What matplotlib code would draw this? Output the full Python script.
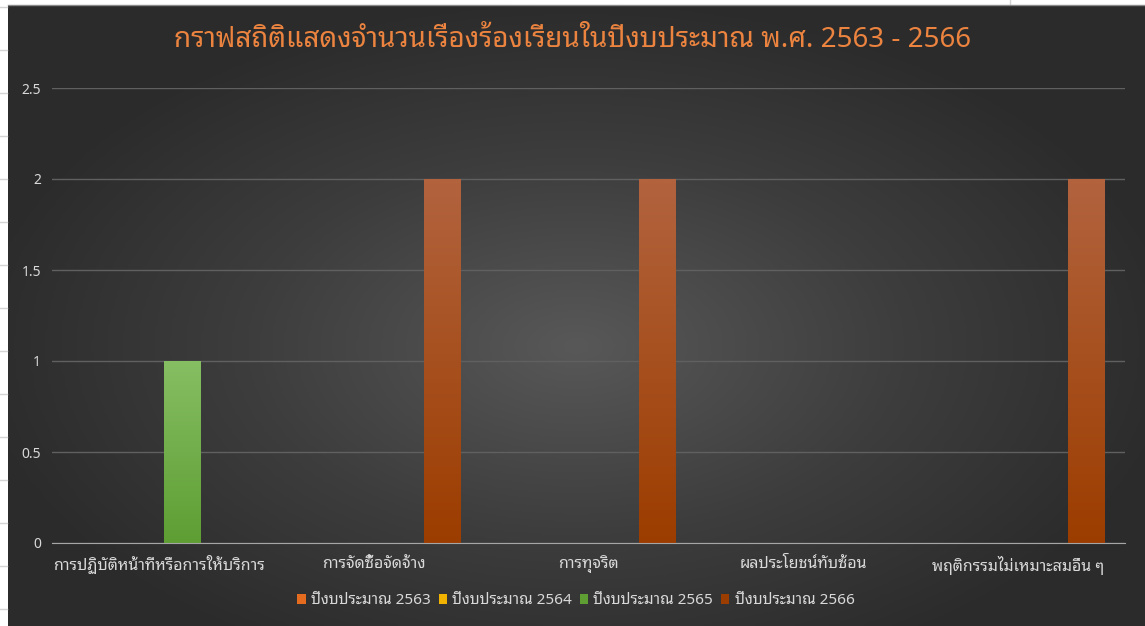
import numpy as np
import matplotlib
matplotlib.use("Agg")
import matplotlib.pyplot as plt
from matplotlib.colors import LinearSegmentedColormap

plt.rcParams["font.family"] = ["Noto Sans Thai Looped", "DejaVu Sans"]

title = "กราฟสถิติแสดงจำนวนเรื่องร้องเรียนในปีงบประมาณ พ.ศ. 2563 - 2566"
categories = [
    "การปฏิบัติหน้าที่หรือการให้บริการ",
    "การจัดซื้อจัดจ้าง",
    "การทุจริต",
    "ผลประโยชน์ทับซ้อน",
    "พฤติกรรมไม่เหมาะสมอื่น ๆ",
]
series_names = ["ปีงบประมาณ 2563", "ปีงบประมาณ 2564", "ปีงบประมาณ 2565", "ปีงบประมาณ 2566"]
v2563 = [0, 0, 0, 0, 0]
v2564 = [0, 0, 0, 0, 0]
v2565 = [1, 0, 0, 0, 0]
v2566 = [0, 2, 2, 0, 2]
yticks = [0, 0.5, 1, 1.5, 2, 2.5]
ytick_labels = ["0", "0.5", "1", "1.5", "2", "2.5"]

# (top colour, bottom colour) for each series
colors = [("#F4A06A", "#E56B1F"), ("#FFD24D", "#F2B200"),
          ("#86BE63", "#5E9E33"), ("#B2633E", "#9C3D00")]

fig = plt.figure(figsize=(11.45, 6.26), dpi=100)
fig.patch.set_facecolor("white")

# spreadsheet grid behind the chart
for yy in np.arange(7, 626, 43):
    fig.add_artist(plt.Line2D([0, 7 / 1145], [1 - yy / 626] * 2, color="#d4d4d4", lw=1))
for xx in [1010]:
    fig.add_artist(plt.Line2D([xx / 1145] * 2, [1 - 4 / 626, 1], color="#d4d4d4", lw=1))

# dark radial background of the chart
bg = fig.add_axes([8 / 1145, 0, 1 - 8 / 1145, 1 - 5 / 626])
gx, gy = np.meshgrid(np.linspace(-1, 1, 400), np.linspace(-1, 1, 220))
r = np.clip(np.sqrt((gx * 0.95) ** 2 + ((gy - 0.1) * 0.9) ** 2), 0, 1)
bg_cmap = LinearSegmentedColormap.from_list("bg", ["#585858", "#3d3d3d", "#282828"])
bg.imshow(r, cmap=bg_cmap, aspect="auto", extent=[0, 1, 0, 1], vmin=0, vmax=1.1)
bg.set_axis_off()
fig.add_artist(plt.Line2D([8 / 1145, 1], [1 - 5 / 626] * 2, color="#8a8a8a", lw=1))

ax = fig.add_axes([52 / 1145, 83 / 626, (1125 - 52) / 1145, (543 - 88) / 626])
ax.set_facecolor("none")

x = np.arange(len(categories))
step = 0.214
width = 0.172
all_vals = [v2563, v2564, v2565, v2566]
handles = []
for i, vals in enumerate(all_vals):
    off = (i - 1.5) * step
    bars = ax.bar(x + off, vals, width=width, color=colors[i][1], label=series_names[i],
                  zorder=3, linewidth=0)
    handles.append(bars)
    cmap = LinearSegmentedColormap.from_list("g%d" % i, [colors[i][1], colors[i][0]])
    for b in bars:
        h = b.get_height()
        if h <= 0:
            continue
        im = ax.imshow(np.linspace(0, 1, 100).reshape(-1, 1), cmap=cmap, origin="lower",
                       aspect="auto", zorder=4,
                       extent=[b.get_x(), b.get_x() + b.get_width(), 0, h])
        im.set_clip_path(b)

ax.set_xlim(-0.5, len(categories) - 0.5)
ax.set_ylim(0, 2.5)
ax.set_yticks(yticks)
ax.set_yticklabels(ytick_labels)
ax.set_xticks(x)
ax.set_xticklabels(categories)
ax.grid(axis="y", color="#606060", lw=1, zorder=0)
for s in ["top", "right", "left"]:
    ax.spines[s].set_visible(False)
ax.spines["bottom"].set_color("#a6a6a6")
ax.spines["bottom"].set_zorder(5)
ax.tick_params(axis="both", length=0, colors="#d9d9d9")
ax.tick_params(axis="y", labelsize=10, pad=8)
ax.tick_params(axis="x", labelsize=11.5, pad=9)

fig.text(0.5, 1 - 40 / 626, title, ha="center", va="center", fontsize=20,
         color="#EC8440", fontweight="bold")

leg = fig.legend(handles=handles, loc="center", bbox_to_anchor=(0.503, 1 - 601 / 626),
                 ncol=4, frameon=False, fontsize=11, handlelength=0.55, handleheight=0.55,
                 handletextpad=0.35, columnspacing=0.5, labelcolor="#d9d9d9")
for h, c in zip(leg.legend_handles, colors):
    h.set_color(c[1])

fig.savefig("out.png", dpi=100, facecolor=fig.get_facecolor())
